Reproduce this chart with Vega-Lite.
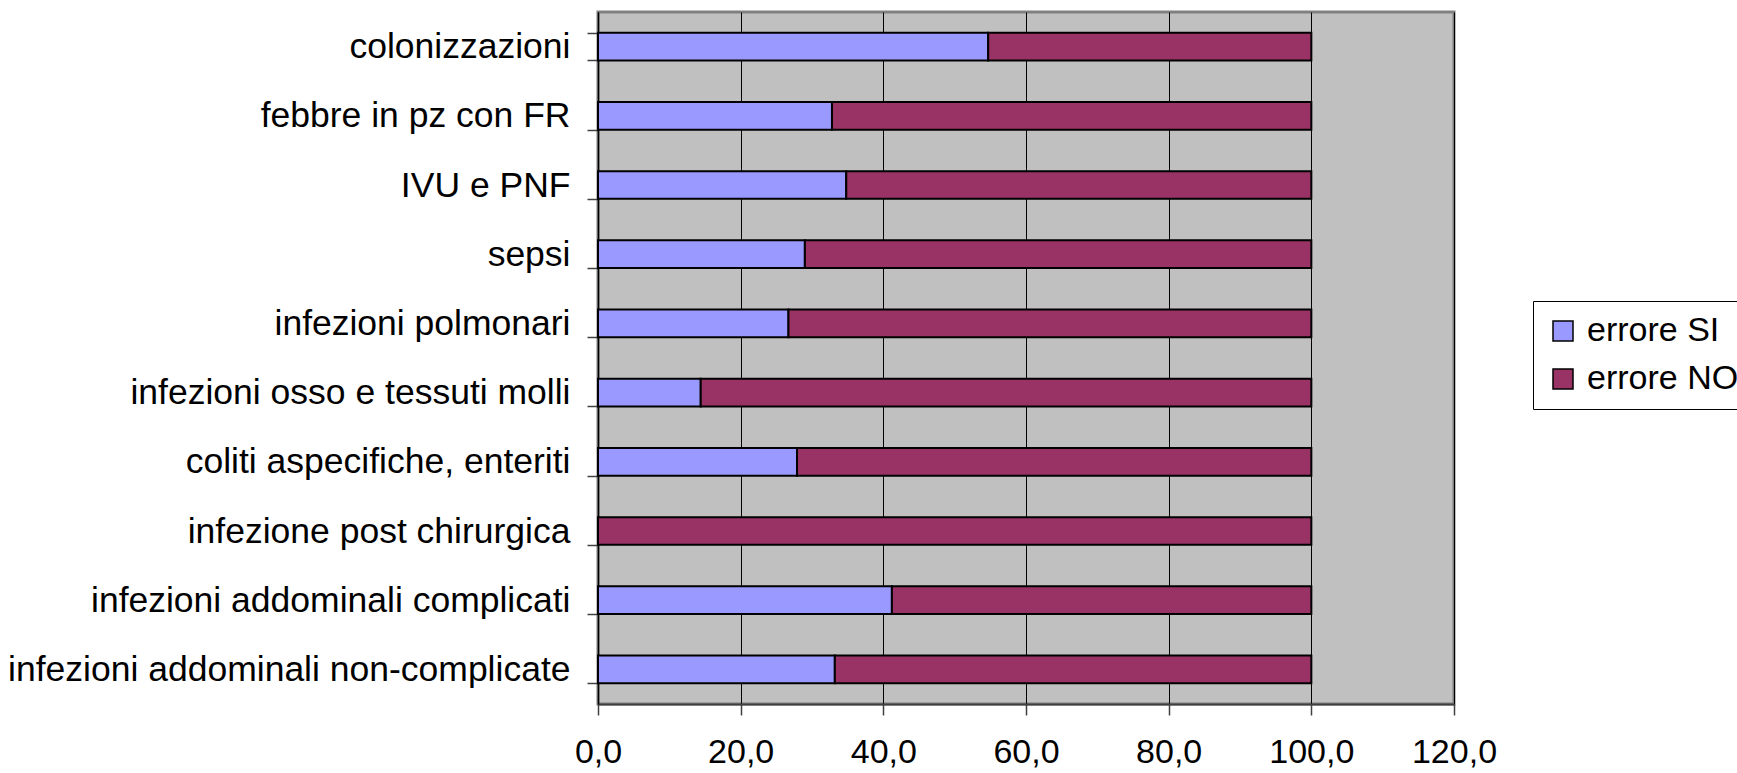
{
  "$schema": "https://vega.github.io/schema/vega-lite/v6.json",
  "autosize": "none",
  "padding": {"left": 598, "top": 12, "right": 283, "bottom": 69},
  "width": 856,
  "height": 692,
  "background": "white",
  "config": {
    "font": "Liberation Sans",
    "view": {"fill": "#C0C0C0", "stroke": "#808080", "strokeWidth": 3},
    "axis": {"labelFont": "Liberation Sans", "labelColor": "black"}
  },
  "data": {
    "values": [
      {"categoria": "colonizzazioni", "serie": "errore SI", "valore": 54.7},
      {"categoria": "colonizzazioni", "serie": "errore NO", "valore": 45.3},
      {"categoria": "febbre in pz con FR", "serie": "errore SI", "valore": 32.8},
      {"categoria": "febbre in pz con FR", "serie": "errore NO", "valore": 67.2},
      {"categoria": "IVU e PNF", "serie": "errore SI", "valore": 34.8},
      {"categoria": "IVU e PNF", "serie": "errore NO", "valore": 65.2},
      {"categoria": "sepsi", "serie": "errore SI", "valore": 29.0},
      {"categoria": "sepsi", "serie": "errore NO", "valore": 71.0},
      {"categoria": "infezioni polmonari", "serie": "errore SI", "valore": 26.7},
      {"categoria": "infezioni polmonari", "serie": "errore NO", "valore": 73.3},
      {"categoria": "infezioni osso e tessuti molli", "serie": "errore SI", "valore": 14.4},
      {"categoria": "infezioni osso e tessuti molli", "serie": "errore NO", "valore": 85.6},
      {"categoria": "coliti aspecifiche, enteriti", "serie": "errore SI", "valore": 27.9},
      {"categoria": "coliti aspecifiche, enteriti", "serie": "errore NO", "valore": 72.1},
      {"categoria": "infezione post chirurgica", "serie": "errore SI", "valore": 0.0},
      {"categoria": "infezione post chirurgica", "serie": "errore NO", "valore": 100.0},
      {"categoria": "infezioni addominali complicati", "serie": "errore SI", "valore": 41.2},
      {"categoria": "infezioni addominali complicati", "serie": "errore NO", "valore": 58.8},
      {"categoria": "infezioni addominali non-complicate", "serie": "errore SI", "valore": 33.2},
      {"categoria": "infezioni addominali non-complicate", "serie": "errore NO", "valore": 66.8}
    ]
  },
  "mark": {"type": "bar", "stroke": "black", "strokeWidth": 2},
  "encoding": {
    "y": {
      "field": "categoria",
      "type": "nominal",
      "sort": null,
      "scale": {"paddingInner": 0.6, "paddingOuter": 0.3},
      "axis": {
        "title": null,
        "tickBand": "extent",
        "grid": false,
        "domainColor": "black",
        "domainWidth": 1.5,
        "tickColor": "#404040",
        "tickWidth": 1.5,
        "tickSize": 11,
        "labelFontSize": 35.5,
        "labelPadding": 17,
        "labelLimit": 700
      }
    },
    "x": {
      "field": "valore",
      "type": "quantitative",
      "stack": "zero",
      "scale": {"domain": [0, 120], "nice": false},
      "axis": {
        "title": null,
        "values": [0, 20, 40, 60, 80, 100, 120],
        "labelExpr": "replace(format(datum.value, '.1f'), '.', ',')",
        "grid": true,
        "gridColor": "black",
        "gridWidth": 1,
        "gridOpacity": 1,
        "domainColor": "#404040",
        "domainWidth": 2,
        "tickColor": "#404040",
        "tickWidth": 1.5,
        "tickSize": 11,
        "labelFontSize": 34,
        "labelPadding": 20,
        "labelFlush": false
      }
    },
    "order": {"field": "serie", "sort": "descending"},
    "color": {
      "field": "serie",
      "type": "nominal",
      "sort": ["errore SI", "errore NO"],
      "scale": {"domain": ["errore SI", "errore NO"], "range": ["#9999FF", "#993366"]},
      "legend": {
        "title": null,
        "orient": "none",
        "legendX": 935,
        "legendY": 289,
        "padding": 13,
        "strokeColor": "black",
        "fillColor": "white",
        "symbolType": "square",
        "symbolSize": 400,
        "symbolStrokeColor": "black",
        "symbolStrokeWidth": 1.5,
        "symbolOpacity": 1,
        "labelFontSize": 34,
        "labelFont": "Liberation Sans",
        "labelColor": "black",
        "labelOffset": 7,
        "rowPadding": 14,
        "labelLimit": 400
      }
    }
  }
}
